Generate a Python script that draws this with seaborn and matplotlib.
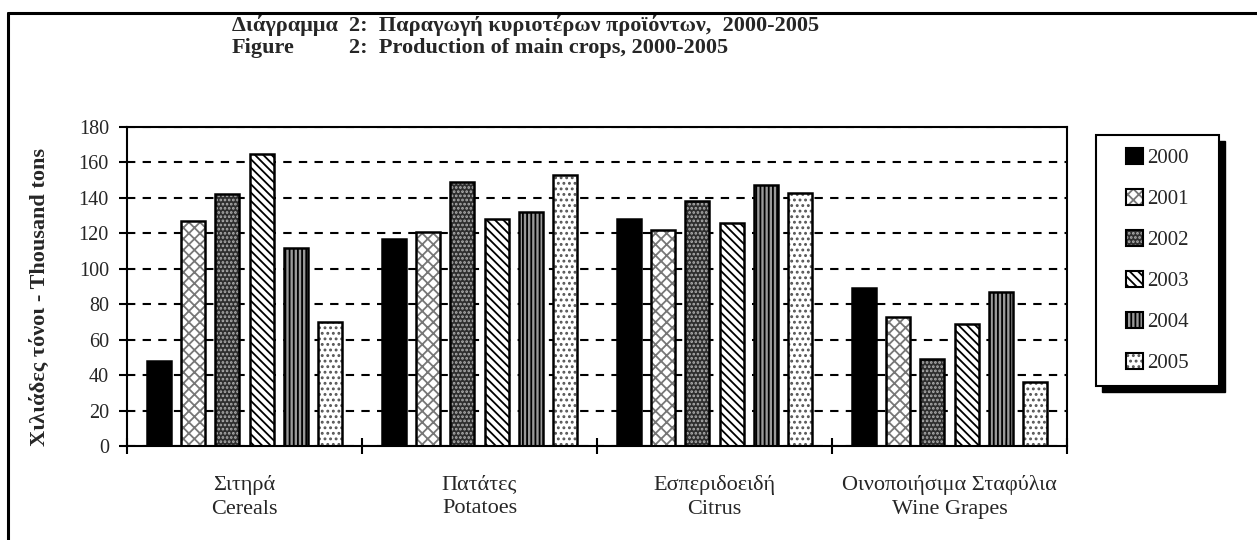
import numpy as np
import pandas as pd
import matplotlib
matplotlib.use("Agg")
import matplotlib.pyplot as plt
from matplotlib.patches import Rectangle, Patch
from matplotlib.lines import Line2D
from matplotlib.legend_handler import HandlerTuple
import seaborn as sns

# data (thousand tons)
crops = ["Σιτηρά\nCereals", "Πατάτες\nPotatoes", "Εσπεριδοειδή\nCitrus",
         "Οινοποιήσιμα Σταφύλια\nWine Grapes"]
years = ["2000", "2001", "2002", "2003", "2004", "2005"]
v2000 = [48, 117, 128, 89]
v2001 = [127, 121, 122, 73]
v2002 = [142, 149, 138, 49]
v2003 = [165, 128, 126, 69]
v2004 = [112, 132, 147, 87]
v2005 = [70, 153, 143, 36]
yticks = [0, 20, 40, 60, 80, 100, 120, 140, 160, 180]

series = [v2000, v2001, v2002, v2003, v2004, v2005]
df = pd.DataFrame({
    "crop": np.tile(crops, len(years)),
    "year": np.repeat(years, len(crops)),
    "value": np.concatenate(series),
})

# fill / hatch / hatch colour per year
faces = ["black", "white", "#2e2e2e", "white", "#999999", "white"]
hatches = [None, "xxx", "....", "\\\\\\\\", "||||", "..."]
hatch_cols = ["black", "#777777", "#b0b0b0", "black", "black", "#555555"]

sns.set_theme(style="white")
plt.rcParams["font.family"] = ["Liberation Serif", "DejaVu Serif"]
plt.rcParams["hatch.linewidth"] = 1.3

W, H = 1257, 540
fig = plt.figure(figsize=(W / 100, H / 100), dpi=100)
ax = fig.add_axes([127 / W, 1 - 446 / H, (1067 - 127) / W, (446 - 127) / H])

sns.barplot(data=df, x="crop", y="value", hue="year", hue_order=years,
            palette=dict(zip(years, faces)), width=0.875, gap=0.3,
            legend=False, ax=ax, saturation=1, errorbar=None)

for cont, fc, h, hc in zip(ax.containers, faces, hatches, hatch_cols):
    for bar in cont:
        bar.set_facecolor(fc)
        bar.set_edgecolor(hc)
        bar.set_linewidth(0)
        if h:
            bar.set_hatch(h)
        ax.add_patch(Rectangle(bar.get_xy(), bar.get_width(), bar.get_height(),
                               fill=False, edgecolor="black", lw=1.8, zorder=3))

ax.set_ylim(0, 180)
ax.set_yticks(yticks)
ax.set_xlim(-0.5, len(crops) - 0.5)
ax.set_xlabel("")
ax.set_ylabel("")
ax.yaxis.grid(True, color="black", linestyle=(0, (4, 3.5)), linewidth=1.5)
ax.set_axisbelow(True)

for s in ["left", "bottom", "right"]:
    ax.spines[s].set_color("black")
    ax.spines[s].set_linewidth(1.5)
ax.spines["top"].set_color("black")
ax.spines["top"].set_linewidth(1.5)
ax.spines["top"].set_linestyle((0, (4, 1)))

ax.tick_params(axis="y", which="major", direction="out", length=6, width=1.5,
               color="black", left=True, labelsize=14.5, pad=7)
ax.tick_params(axis="x", which="major", length=0, labelsize=16, pad=21)
for lab in ax.get_xticklabels():
    lab.set_linespacing(1.35)
ax.set_xticks(np.arange(-0.5, len(crops), 1.0), minor=True)
ax.tick_params(axis="x", which="minor", direction="inout", length=11,
               width=1.5, color="black", bottom=True)

# y label
fig.text(40 / W, 1 - 297 / H, "Χιλιάδες τόνοι - Thousand tons", rotation=90,
         ha="center", va="center", fontsize=16, fontweight="bold")

# titles, the "2:" parts lined up
tfs = 16
t1 = fig.text(232 / W, 1 - 25 / H, "Διάγραμμα  ", ha="left", va="center",
              fontsize=tfs, fontweight="bold")
fig.canvas.draw()
x2 = t1.get_window_extent().x1 / W
fig.text(x2, 1 - 25 / H, "2:  Παραγωγή κυριοτέρων προϊόντων,  2000-2005",
         ha="left", va="center", fontsize=tfs, fontweight="bold")
fig.text(232 / W, 1 - 48 / H, "Figure", ha="left", va="center",
         fontsize=tfs, fontweight="bold")
fig.text(x2, 1 - 48 / H, "2:  Production of main crops, 2000-2005",
         ha="left", va="center", fontsize=tfs, fontweight="bold")

# legend box with solid shadow
lx0, ly0, lx1, ly1 = 1096, 135, 1219, 386
fig.patches.append(Rectangle(((lx0 + 6) / W, 1 - (ly1 + 6) / H), (lx1 - lx0) / W,
                             (ly1 - ly0) / H, transform=fig.transFigure,
                             facecolor="black", edgecolor="black", zorder=1))
fig.patches.append(Rectangle((lx0 / W, 1 - ly1 / H), (lx1 - lx0) / W,
                             (ly1 - ly0) / H, transform=fig.transFigure,
                             facecolor="white", edgecolor="black", lw=1.5, zorder=2))
handles = [(Patch(facecolor=fc, edgecolor=hc, hatch=h, lw=0),
            Patch(fill=False, edgecolor="black", lw=1.5))
           for fc, h, hc in zip(faces, hatches, hatch_cols)]
leg = fig.legend(handles, years, loc="center",
                 handler_map={tuple: HandlerTuple(ndivide=1, pad=0)},
                 bbox_to_anchor=((lx0 + lx1) / 2 / W, 1 - (ly0 + ly1) / 2 / H),
                 frameon=False, fontsize=15, labelspacing=1.0,
                 handlelength=0.8, handleheight=0.8, handletextpad=0.2)
leg.set_zorder(5)

# outer frame (top and left edges)
fig.add_artist(Line2D([8 / W, 1], [1 - 13 / H, 1 - 13 / H], color="black", lw=2.2,
                      transform=fig.transFigure))
fig.add_artist(Line2D([8 / W, 8 / W], [0, 1 - 13 / H], color="black", lw=2.2,
                      transform=fig.transFigure))

fig.savefig("out.png", dpi=100)
